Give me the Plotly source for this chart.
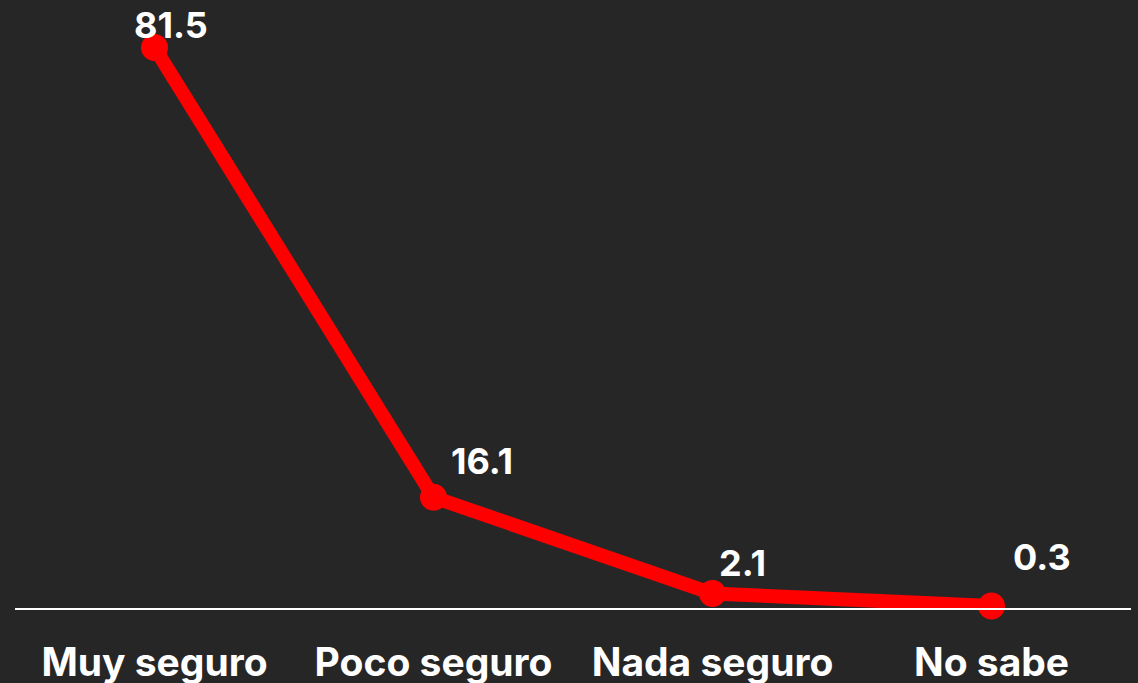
import plotly.graph_objects as go

categories = ["Muy seguro", "Poco seguro", "Nada seguro", "No sabe"]
values = [81.5, 16.1, 2.1, 0.3]
labels = ["81.5", "16.1", "2.1", "0.3"]

# label offsets (px) relative to each point
label_dx = [16, 48, 30, 50]
label_dy = [22, 36, 31, 49]

FONT = "Inter, Open Sans, sans-serif"

fig = go.Figure()
fig.add_trace(go.Scatter(
    x=categories, y=values, mode="lines+markers",
    line=dict(color="#FF0000", width=14),
    marker=dict(color="#FF0000", size=27),
    cliponaxis=False, hoverinfo="skip",
))

for c, v, t, dx, dy in zip(categories, values, labels, label_dx, label_dy):
    fig.add_annotation(x=c, y=v, text=t, showarrow=False,
                       xshift=dx, yshift=dy,
                       font=dict(family=FONT, size=36, color="white", weight="bold"))

fig.update_layout(
    width=1138, height=683,
    paper_bgcolor="#262626", plot_bgcolor="#262626",
    margin=dict(l=15, r=7, t=0, b=75, autoexpand=False),
    showlegend=False,
    xaxis=dict(
        type="category", range=[-0.5, 3.5], automargin=False,
        showline=True, linecolor="white", linewidth=2,
        showgrid=False, zeroline=False, ticks="",
        ticklabelstandoff=19,
        tickfont=dict(family=FONT, size=39, color="white", weight="bold"),
    ),
    yaxis=dict(range=[0, 88.4], visible=False, showgrid=False, zeroline=False, automargin=False),
)

fig.write_html("out.html", config={"displayModeBar": False},
               post_script="document.body.style.margin='0';document.body.style.overflow='hidden';document.body.style.background='#262626';")
